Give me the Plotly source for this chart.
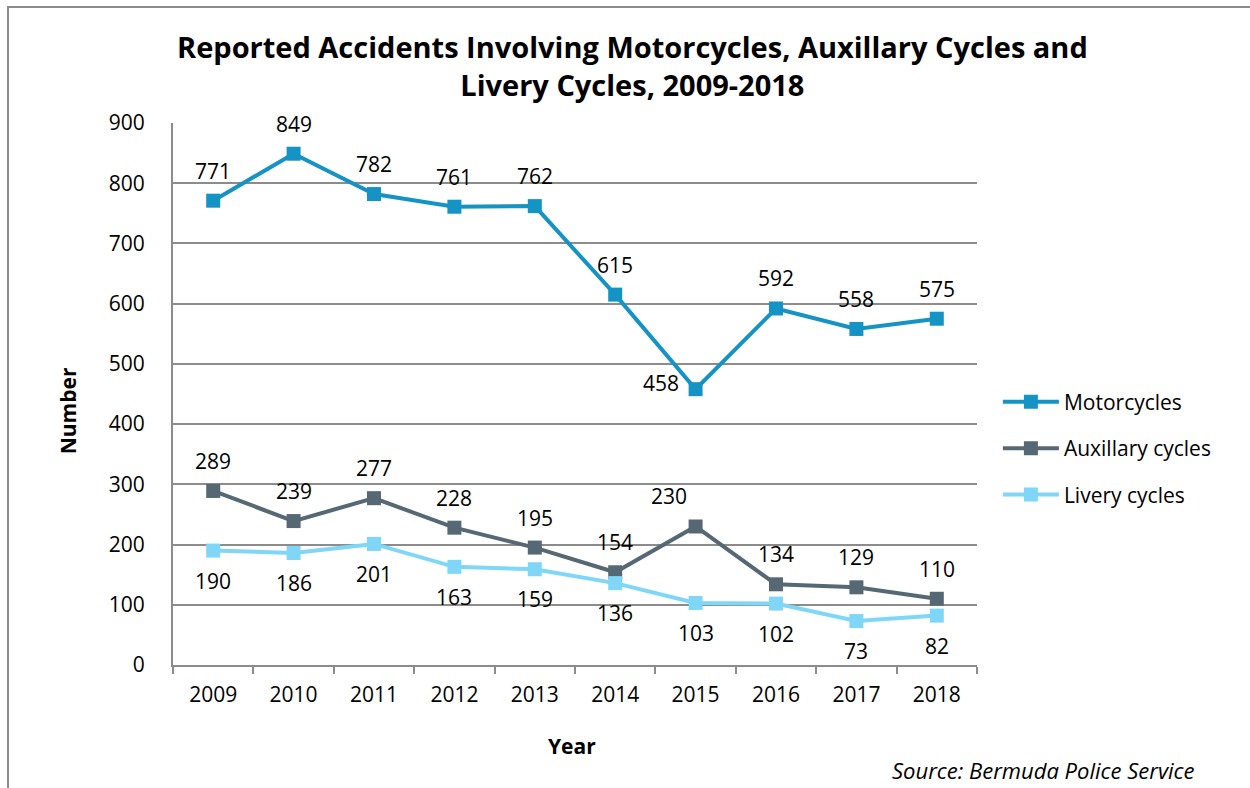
import plotly.graph_objects as go

years = ["2009", "2010", "2011", "2012", "2013", "2014", "2015", "2016", "2017", "2018"]
motorcycles = [771, 849, 782, 761, 762, 615, 458, 592, 558, 575]
auxillary = [289, 239, 277, 228, 195, 154, 230, 134, 129, 110]
livery = [190, 186, 201, 163, 159, 136, 103, 102, 73, 82]

series = [
    ("Motorcycles", motorcycles, "#1593C4", 30),
    ("Auxillary cycles", auxillary, "#566874", 30),
    ("Livery cycles", livery, "#7FD6F7", -30),
]

# nudges for labels that would otherwise collide with a line
label_nudge = {("Motorcycles", "2015"): (-35, -24), ("Auxillary cycles", "2015"): (-27, 0)}

FONT = "Open Sans"
GRID = "#8C8C8C"

fig = go.Figure()
annotations = []
for i, (name, vals, color, shift) in enumerate(series):
    fig.add_trace(go.Scatter(
        x=years, y=vals, name=name, mode="lines+markers",
        line=dict(color=color, width=4),
        marker=dict(symbol="square", size=14, color=color),
        legendgroup=f"g{i}",
    ))
    for k, (yr, v) in enumerate(zip(years, vals)):
        dx, dy = label_nudge.get((name, yr), (0, 0))
        annotations.append(dict(
            x=k, y=v, xref="x", yref="y", text=str(v), showarrow=False,
            yshift=shift + dy, xshift=dx, xanchor="center", yanchor="middle",
            font=dict(family=FONT, size=21, color="#000000"),
        ))

annotations += [
    dict(text="<b>Reported Accidents Involving Motorcycles, Auxillary Cycles and<br>Livery Cycles, 2009-2018</b>",
         x=0.571, y=1.107, xref="paper", yref="paper", showarrow=False,
         xanchor="center", yanchor="middle", align="center",
         font=dict(family=FONT, size=29, color="#000000")),
    dict(text="<b>Number</b>", x=-0.1306, y=0.47, xref="paper", yref="paper",
         showarrow=False, textangle=-90, xanchor="center", yanchor="middle",
         font=dict(family=FONT, size=21, color="#000000")),
    dict(text="<b>Year</b>", x=0.496, y=-0.149, xref="paper", yref="paper",
         showarrow=False, xanchor="center", yanchor="middle",
         font=dict(family=FONT, size=21, color="#000000")),
    dict(text="<i>Source: Bermuda Police Service</i>", x=1.2736, y=-0.1937,
         xref="paper", yref="paper", showarrow=False, xanchor="right", yanchor="middle",
         font=dict(family=FONT, size=22, color="#000000")),
]

fig.update_layout(
    width=1250, height=788,
    margin=dict(l=173, r=273, t=123, b=123),
    paper_bgcolor="white", plot_bgcolor="white",
    annotations=annotations,
    showlegend=True,
    legend=dict(x=1.026, y=0.40, xanchor="left", yanchor="middle",
                font=dict(family=FONT, size=21, color="#000000"),
                itemwidth=56, tracegroupgap=16, traceorder="grouped",
                bgcolor="rgba(0,0,0,0)"),
    shapes=[dict(type="rect", xref="paper", yref="paper",
                 x0=-0.2052, x1=1.4, y0=-0.4, y1=1.214,
                 line=dict(color="#8C8C8C", width=2))],
)

fig.update_xaxes(
    type="category", range=[-0.5, 9.5], showgrid=False,
    showline=True, linecolor=GRID, linewidth=2,
    ticks="outside", tickson="boundaries", ticklen=7, tickcolor=GRID, tickwidth=2,
    ticklabelstandoff=10,
    tickfont=dict(family=FONT, size=21, color="#000000"),
)
fig.update_yaxes(
    range=[0, 900], dtick=100, showgrid=True, gridcolor=GRID, gridwidth=1.5,
    zeroline=False, showline=True, linecolor=GRID, linewidth=2,
    ticks="", ticklabelstandoff=22,
    tickfont=dict(family=FONT, size=21, color="#000000"),
)

fig.write_html("out.html")
